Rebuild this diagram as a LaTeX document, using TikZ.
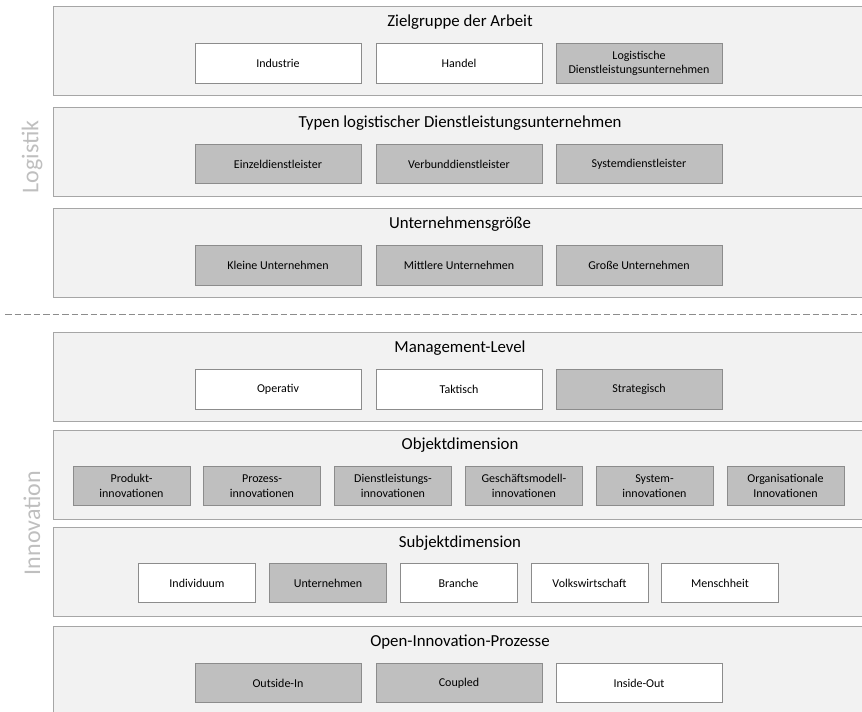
\documentclass[tikz,border=0pt]{standalone}
\usepackage{fontspec}
\setmainfont{Carlito}
\definecolor{panelfill}{HTML}{F2F2F2}
\definecolor{panelline}{HTML}{A6A6A6}
\definecolor{boxline}{HTML}{8C8C8C}
\definecolor{boxgray}{HTML}{BFBFBF}
\definecolor{sidegray}{HTML}{BFBFBF}
\definecolor{dashgray}{HTML}{8C8C8C}
\begin{document}
\begin{tikzpicture}[x=1pt,y=-1pt]
\tikzstyle{every node}+=[inner sep=0pt]
\tikzstyle{panel}=[rectangle, draw=panelline, fill=panelfill, line width=1.2pt, anchor=north west, minimum width=814pt, minimum height=89pt]
\tikzstyle{wbox}=[rectangle, draw=boxline, fill=white, line width=0.8pt, minimum height=39.5pt, align=center, font=\fontsize{12}{14.6}\selectfont]
\tikzstyle{gbox}=[wbox, fill=boxgray]
\tikzstyle{wide}=[minimum width=166pt]
\tikzstyle{narrow}=[minimum width=117pt]
\tikzstyle{title}=[font=\fontsize{16.8}{20}\selectfont]
\tikzstyle{side}=[rotate=90, text=sidegray, font=\fontsize{24}{28}\selectfont]
\useasboundingbox (0,0) rectangle (862,712);
\clip (0,0) rectangle (862,712);
% Logistik
\node [panel] (zielgruppe) at (53,6) {};
\node [title] (zielgruppeT) at (460,22) {Zielgruppe der Arbeit};
\node [wbox, wide] (industrie) at (278,63.5) {Industrie};
\node [wbox, wide] (handel) at (459,63.5) {Handel};
\node [gbox, wide] (ldl) at (639,63.5) {Logistische\\Dienstleistungsunternehmen};
\node [panel] (typen) at (53,107) {};
\node [title] (typenT) at (460,123) {Typen logistischer Dienstleistungsunternehmen};
\node [gbox, wide] (einzel) at (278,164) {Einzeldienstleister};
\node [gbox, wide] (verbund) at (459,164) {Verbunddienstleister};
\node [gbox, wide] (system) at (639,164) {Systemdienstleister};
\node [panel] (groesse) at (53,208) {};
\node [title] (groesseT) at (460,224) {Unternehmensgröße};
\node [gbox, wide] (klein) at (278,265.5) {Kleine Unternehmen};
\node [gbox, wide] (mittel) at (459,265.5) {Mittlere Unternehmen};
\node [gbox, wide] (gross) at (639,265.5) {Große Unternehmen};
\node [side] (logistik) at (32,157) {Logistik};
% Trennlinie
\coordinate (sepL) at (5,314);
\coordinate (sepR) at (870,314);
\draw [dashgray, line width=0.9pt, dash pattern=on 6.5pt off 3pt] (sepL) -- (sepR);
% Innovation
\node [panel] (management) at (53,332) {};
\node [title] (managementT) at (460,348) {Management-Level};
\node [wbox, wide] (operativ) at (278,389.5) {Operativ};
\node [wbox, wide] (taktisch) at (459,389.5) {Taktisch};
\node [gbox, wide] (strategisch) at (639,389.5) {Strategisch};
\node [panel] (objekt) at (53,430) {};
\node [title] (objektT) at (460,445) {Objektdimension};
\node [gbox, narrow] (produkt) at (131.5,486) {Produkt-\\innovationen};
\node [gbox, narrow] (prozess) at (262,486) {Prozess-\\innovationen};
\node [gbox, narrow] (dienst) at (393,486) {Dienstleistungs-\\innovationen};
\node [gbox, narrow] (modell) at (524,486) {Geschäftsmodell-\\innovationen};
\node [gbox, narrow] (systemi) at (654.5,486) {System-\\innovationen};
\node [gbox, narrow] (organisation) at (785.5,486) {Organisationale\\Innovationen};
\node [panel] (subjekt) at (53,527) {};
\node [title] (subjektT) at (460,543) {Subjektdimension};
\node [wbox, narrow] (individuum) at (197,583) {Individuum};
\node [gbox, narrow] (unternehmen) at (328,583) {Unternehmen};
\node [wbox, narrow] (branche) at (458.5,583) {Branche};
\node [wbox, narrow] (volk) at (589.5,583) {Volkswirtschaft};
\node [wbox, narrow] (menschheit) at (720,583) {Menschheit};
\node [panel, minimum height=100pt] (open) at (53,626) {};
\node [title] (openT) at (460,642) {Open-Innovation-Prozesse};
\node [gbox, wide] (outside) at (278,683) {Outside-In};
\node [gbox, wide] (coupled) at (459,683) {Coupled};
\node [wbox, wide] (inside) at (639,683) {Inside-Out};
\node [side] (innovation) at (32,523) {Innovation};
\end{tikzpicture}
\end{document}
